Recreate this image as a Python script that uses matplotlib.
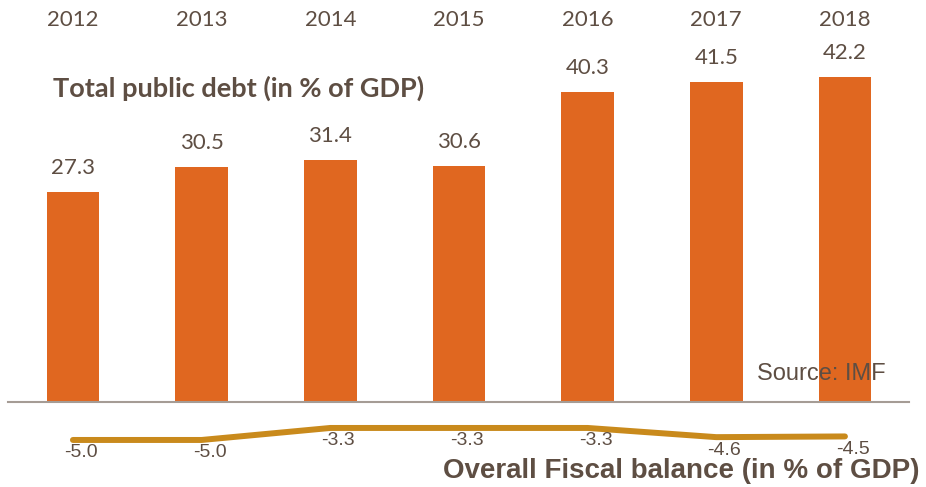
import matplotlib
matplotlib.use("Agg")
import matplotlib.pyplot as plt

years = ["2012", "2013", "2014", "2015", "2016", "2017", "2018"]
debt = [27.3, 30.5, 31.4, 30.6, 40.3, 41.5, 42.2]
balance = [-5.0, -5.0, -3.3, -3.3, -3.3, -4.6, -4.5]

bar_color = "#e06720"
line_color = "#c98a1c"
text_color = "#5e4e43"
narrow = ["Liberation Sans Narrow", "Liberation Sans"]

fig = plt.figure(figsize=(9.26, 4.87), dpi=100)

# bars
ax = fig.add_axes([0, 0, 1, 1])
x = list(range(len(years)))
ax.bar(x, debt, width=0.41, color=bar_color, zorder=2)
ax.set_xlim(-0.567, 6.63)
ax.set_ylim(-11.04, 52.2)
ax.axhline(0, xmin=0.009, xmax=0.982, color="#a59c95", lw=1.5, zorder=3)
for xi, v in zip(x, debt):
    ax.annotate(f"{v:.1f}", (xi, v), xytext=(0, 14), textcoords="offset pixels",
                ha="center", va="bottom", fontsize=16, family="Lato", color=text_color)
for xi, yr in zip(x, years):
    ax.text(xi, 49.6, yr, ha="center", va="center", fontsize=16, family="Lato",
            color=text_color)
ax.text(0.057, 0.818, "Total public debt (in % of GDP)", transform=ax.transAxes,
        ha="left", va="center", fontsize=19.5, fontweight="bold", family="Lato",
        color=text_color)
ax.text(0.817, 0.232, "Source: IMF", transform=ax.transAxes, ha="left", va="center",
        fontsize=17, family="Liberation Sans", color=text_color, zorder=5)
ax.axis("off")

# fiscal balance line
ax2 = fig.add_axes([0, 0, 1, 1])
ax2.patch.set_visible(False)
ax2.plot(x, balance, color=line_color, lw=4.3, solid_capstyle="round")
ax2.set_xlim(-0.567, 6.63)
ax2.set_ylim(-11.66, 57.3)
for xi, v in zip(x, balance):
    ax2.annotate(f"{v:.1f}", (xi, v), xytext=(8, -13), textcoords="offset pixels",
                 ha="center", va="center", fontsize=14, family=narrow, color=text_color)
ax2.text(0.993, 0.033, "Overall Fiscal balance (in % of GDP)", transform=ax2.transAxes,
         ha="right", va="center", fontsize=20, fontweight="bold", family=narrow,
         color=text_color)
ax2.axis("off")

fig.savefig("out.png", dpi=100)
